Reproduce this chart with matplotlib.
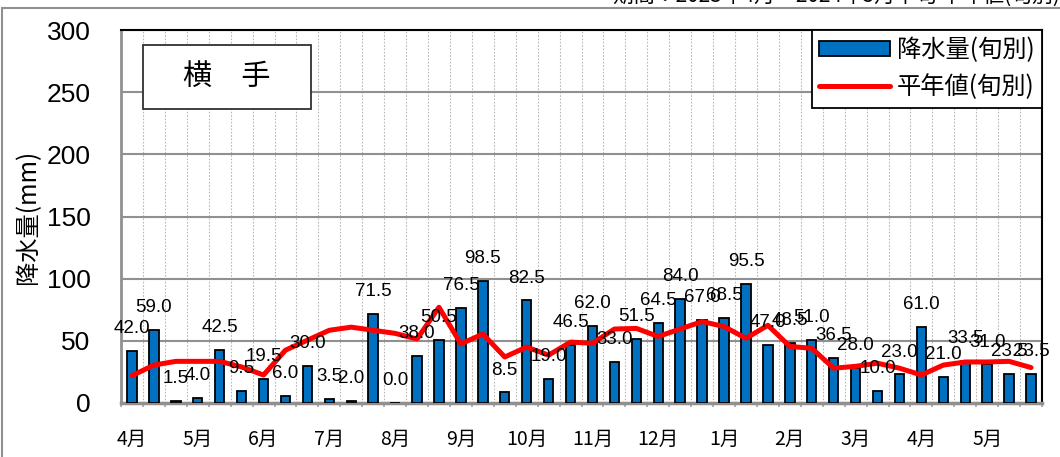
import matplotlib.pyplot as plt
import matplotlib.patches as mpatches
import matplotlib.ticker as ticker
import numpy as np

# 旬別降水量（横手）
rain = [42.0, 59.0, 1.5, 4.0, 42.5, 9.5, 19.5, 6.0, 30.0, 3.5, 2.0, 71.5,
        0.0, 38.0, 50.5, 76.5, 98.5, 8.5, 82.5, 19.0, 46.5, 62.0, 33.0, 51.5,
        64.5, 84.0, 67.0, 68.5, 95.5, 47.0, 48.5, 51.0, 36.5, 28.0, 10.0, 23.0,
        61.0, 21.0, 33.5, 31.0, 23.5, 23.5]
# 平年値（旬別）
normal = [22, 30.5, 33.5, 33.5, 33.5, 29, 22.5, 42.5, 50.5, 58.5, 61, 58.5,
          56, 51.5, 77, 47.5, 55.5, 37, 45, 38.5, 49, 48, 59.5, 60,
          53.5, 59.5, 65.5, 61.5, 52, 62.5, 45.5, 44, 28, 29.5, 32, 28,
          22.5, 30.5, 33, 33, 33.5, 28.5]
months = ["4月", "5月", "6月", "7月", "8月", "9月", "10月", "11月", "12月",
          "1月", "2月", "3月", "4月", "5月"]
yticks = [0, 50, 100, 150, 200, 250, 300]

jp = ["Noto Sans CJK JP", "DejaVu Sans"]

fig = plt.figure(figsize=(10.6, 4.57), dpi=100)
ax = fig.add_axes([121 / 1060, 1 - 403 / 457, 921 / 1060, 373 / 457])

x = np.arange(len(rain))
bars = ax.bar(x, rain, width=0.43, color="#0070C0", edgecolor="black", lw=1.3, zorder=3,
              label="降水量(旬別)")
line, = ax.plot(x, normal, color="#FF0000", lw=3.6, zorder=4, solid_capstyle="round",
                label="平年値(旬別)")

for xi, v in zip(x, rain):
    ax.annotate(f"{v:.1f}", (xi, v), xytext=(0, 10), textcoords="offset points",
                ha="center", va="bottom", fontsize=13.5, family="Liberation Sans",
                zorder=5)

ax.set_xlim(-0.5, len(rain) - 0.5)
ax.set_ylim(0, 300)
ax.set_yticks(yticks)
ax.set_yticklabels([str(t) for t in yticks], fontsize=19, family="Liberation Sans")
ax.set_xticks(np.arange(0, len(rain), 3))
ax.set_xticklabels(months, fontsize=14, family=jp)
ax.xaxis.set_minor_locator(ticker.FixedLocator(np.arange(-0.5, len(rain), 1)))
ax.tick_params(axis="x", which="major", length=0, pad=19)
ax.tick_params(axis="x", which="minor", length=3, color="#a0a0a0", width=1.2)
ax.tick_params(axis="y", length=0, pad=22)

ax.grid(axis="y", color="#909090", lw=1.5, zorder=1)
for b in np.arange(0.5, len(rain) - 0.5, 1):
    ax.axvline(b, color="#b8b8b8", lw=0.8, ls=(0, (1.5, 1.5)), zorder=1)

for s in ["left", "bottom"]:
    ax.spines[s].set_color("#909090")
ax.spines["left"].set_linewidth(2)
ax.spines["bottom"].set_linewidth(2.5)
ax.spines["top"].set_color("black")
ax.spines["top"].set_linewidth(1.5)
ax.spines["right"].set_color("black")
ax.spines["right"].set_linewidth(1.5)

ax.set_ylabel("降水量(mm)", fontsize=17.5, family=jp, labelpad=4)

# 地点名ボックス
ax.add_patch(mpatches.Rectangle((22 / 921, 294 / 373), 168 / 921, 64 / 373,
                                transform=ax.transAxes, facecolor="white",
                                edgecolor="#303030", lw=1.3, zorder=6))
ax.text(106 / 921, 326 / 373, "横　手", transform=ax.transAxes, ha="center",
        va="center", fontsize=21, family=jp, zorder=7)

leg = ax.legend([bars, line], ["降水量(旬別)", "平年値(旬別)"], loc="upper right",
                bbox_to_anchor=(1.0, 1.0), prop={"family": jp, "size": 17.5},
                frameon=True, fancybox=False, framealpha=1, edgecolor="black",
                handlelength=2.9, handleheight=0.6, borderpad=0.3, labelspacing=0.45,
                handletextpad=0.3, borderaxespad=0)
leg.get_frame().set_linewidth(1.3)
leg.set_zorder(8)

# 外枠と上部の見切れた注記
fig.patches.append(mpatches.Rectangle((2 / 1060, -0.05), 1.1, 1 - 8 / 457 + 0.05,
                                      transform=fig.transFigure, fill=False,
                                      edgecolor="#909090", lw=1.5))
fig.text(1.0, 1 + 4 / 457, "期間：2023年4月～2024年5月中旬 平年値(旬別)", ha="right",
         va="center", fontsize=15, family=jp)

fig.savefig("out.png", dpi=100)
